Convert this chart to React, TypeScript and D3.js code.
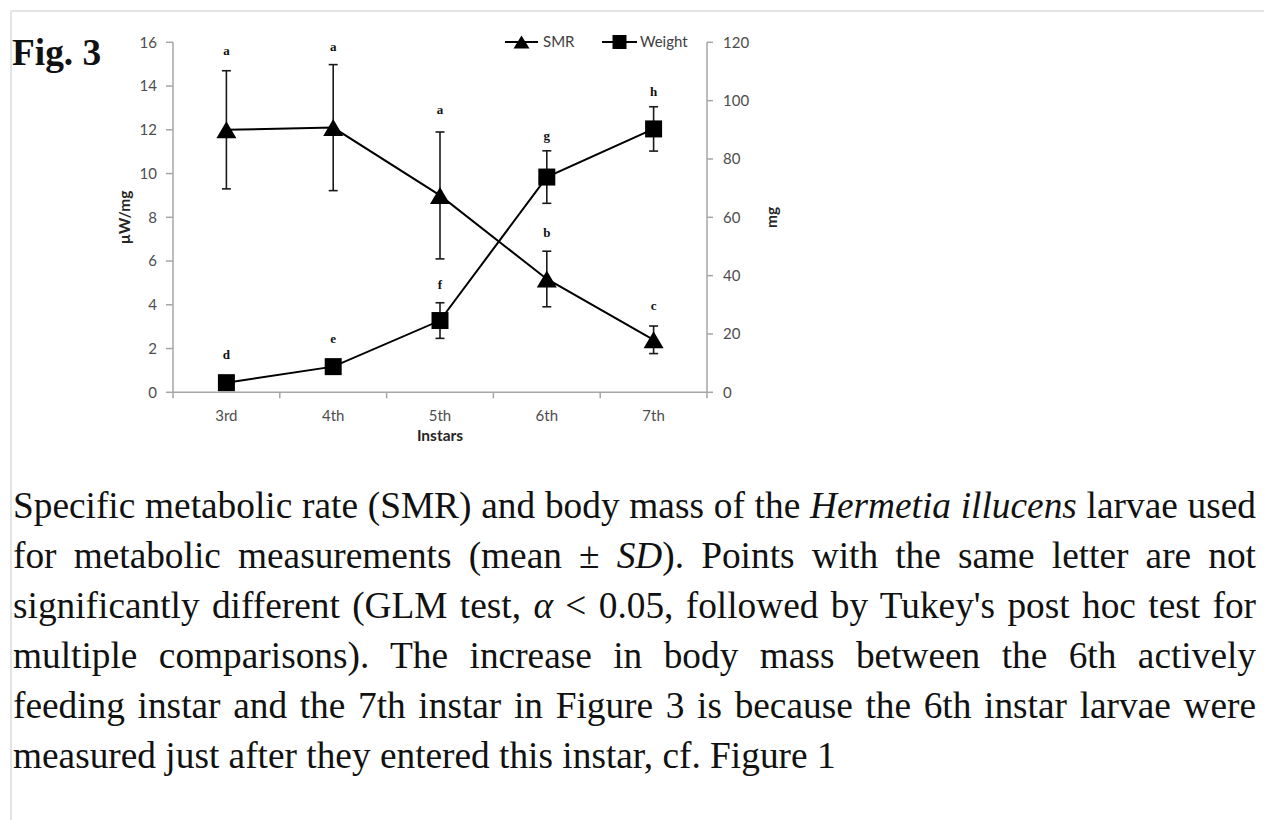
import React, { useLayoutEffect, useRef, useState } from "react";
import * as d3 from "d3";

// ---------- data ----------
const instars = ["3rd", "4th", "5th", "6th", "7th"];
const smrMean = [12.0, 12.1, 9.0, 5.18, 2.4];
const smrSD = [2.7, 2.88, 2.9, 1.27, 0.63];
const smrLetters = ["a", "a", "a", "b", "c"];
const smrLetterPos = [15.4, 15.6, 12.7, 7.1, 3.76];
const weightMean = [3.3, 8.8, 24.6, 73.8, 90.3];
const weightSD = [1.0, 1.5, 6.1, 9.0, 7.6];
const weightLetters = ["d", "e", "f", "g", "h"];
const weightLetterPos = [11.4, 16.9, 35.4, 86.5, 101.6];
const leftTicks = [0, 2, 4, 6, 8, 10, 12, 14, 16];
const rightTicks = [0, 20, 40, 60, 80, 100, 120];

type Seg = [string, boolean];
const captionLines: Seg[][] = [
  [["Specific metabolic rate (SMR) and body mass of the ", false], ["Hermetia illucens", true], [" larvae used", false]],
  [["for metabolic measurements (mean \u00b1 ", false], ["SD", true], ["). Points with the same letter are not", false]],
  [["significantly different (GLM test, ", false], ["\u03b1", true], [" < 0.05, followed by Tukey's post hoc test for", false]],
  [["multiple comparisons). The increase in body mass between the 6th actively", false]],
  [["feeding instar and the 7th instar in Figure 3 is because the 6th instar larvae were", false]],
  [["measured just after they entered this instar, cf. Figure 1", false]],
];

// ---------- layout ----------
const W = 1264;
const H = 820;
const plotLeft = 173;
const plotRight = 707;
const plotTop = 42.3;
const plotBottom = 392.3;
const capX = 13;
const capWidth = 1243;
const capBase = 518;
const capLead = 50;
const capFont = 37.33;

const sans = "Lato, 'Open Sans', sans-serif";
const serif = "'Liberation Serif', 'Times New Roman', serif";

function Caption() {
  const refs = useRef<(SVGTextElement | null)[]>([]);
  const [spacing, setSpacing] = useState<number[]>(captionLines.map(() => 0));
  useLayoutEffect(() => {
    const sp = captionLines.map((segs, i) => {
      if (i === captionLines.length - 1) return 0;
      const el = refs.current[i];
      if (!el) return 0;
      const len = el.getComputedTextLength();
      const txt = segs.map((s) => s[0]).join("");
      const n = (txt.match(/ /g) || []).length;
      return n > 0 ? (capWidth - len) / n : 0;
    });
    setSpacing(sp);
  }, []);
  return (
    <g>
      {captionLines.map((segs, i) => (
        <text
          key={i}
          ref={(el) => {
            refs.current[i] = el;
          }}
          x={capX}
          y={capBase + i * capLead}
          fontFamily={serif}
          fontSize={capFont}
          fill="#111"
          style={{ wordSpacing: spacing[i] + "px", whiteSpace: "pre" }}
        >
          {segs.map((s, j) => (
            <tspan key={j} fontStyle={s[1] ? "italic" : "normal"}>
              {s[0]}
            </tspan>
          ))}
        </text>
      ))}
    </g>
  );
}

function triPath(w: number, h: number) {
  return `M0,${-h / 2}L${w / 2},${h / 2}L${-w / 2},${h / 2}Z`;
}

export default function App() {
  const x = d3.scaleBand<string>().domain(instars).range([plotLeft, plotRight]);
  const cx = (c: string) => (x(c) as number) + x.bandwidth() / 2;
  const yL = d3.scaleLinear().domain([0, 16]).range([plotBottom, plotTop]);
  const yR = d3.scaleLinear().domain([0, 120]).range([plotBottom, plotTop]);

  const smrLine = d3
    .line<number>()
    .x((_, i) => cx(instars[i]))
    .y((d) => yL(d))(smrMean) as string;
  const wLine = d3
    .line<number>()
    .x((_, i) => cx(instars[i]))
    .y((d) => yR(d))(weightMean) as string;

  const axisColor = "#a6a6a6";
  const tickText = "#4d4d4d";
  const cap = 4.5;

  return (
    <div style={{ position: "absolute", left: 0, top: 0 }}>
      <svg width={W} height={H} viewBox={`0 0 ${W} ${H}`} style={{ display: "block", background: "#fff" }}>
        {/* page frame */}
        <line x1={11} x2={W} y1={11} y2={11} stroke="#e4e4e4" strokeWidth={2} />
        <line x1={11} x2={11} y1={11} y2={H} stroke="#e4e4e4" strokeWidth={2} />

        <text x={12} y={65} fontFamily={serif} fontWeight="bold" fontSize={37.33} fill="#111">
          Fig. 3
        </text>

        {/* axes */}
        <g stroke={axisColor} strokeWidth={1.5} fill="none">
          <line x1={plotLeft} x2={plotLeft} y1={plotTop} y2={plotBottom} />
          <line x1={plotRight} x2={plotRight} y1={plotTop} y2={plotBottom} />
          <line x1={plotLeft} x2={plotRight} y1={plotBottom} y2={plotBottom} />
          {leftTicks.map((t) => (
            <line key={"lt" + t} x1={plotLeft - 7} x2={plotLeft} y1={yL(t)} y2={yL(t)} />
          ))}
          {rightTicks.map((t) => (
            <line key={"rt" + t} x1={plotRight} x2={plotRight + 6} y1={yR(t)} y2={yR(t)} />
          ))}
          {instars.map((c) => (
            <line key={"xt" + c} x1={x(c) as number} x2={x(c) as number} y1={plotBottom} y2={plotBottom + 6} />
          ))}
          <line x1={plotRight} x2={plotRight} y1={plotBottom} y2={plotBottom + 6} />
        </g>
        <g fontFamily={sans} fontSize={15} fill={tickText}>
          {leftTicks.map((t) => (
            <text key={"ll" + t} x={157} y={yL(t)} dy="0.35em" textAnchor="end">
              {t}
            </text>
          ))}
          {rightTicks.map((t) => (
            <text key={"rl" + t} x={723} y={yR(t)} dy="0.35em" textAnchor="start">
              {t}
            </text>
          ))}
          {instars.map((c) => (
            <text key={"xl" + c} x={cx(c)} y={421} textAnchor="middle">
              {c}
            </text>
          ))}
        </g>
        <g fontFamily={sans} fontSize={15.5} fontWeight="bold" fill="#262626">
          <text x={440} y={441} textAnchor="middle">
            Instars
          </text>
          <text transform={`translate(130,${(plotTop + plotBottom) / 2}) rotate(-90)`} textAnchor="middle">
            µW/mg
          </text>
          <text transform={`translate(777,${(plotTop + plotBottom) / 2}) rotate(-90)`} textAnchor="middle">
            mg
          </text>
        </g>

        {/* series lines */}
        <path d={smrLine} fill="none" stroke="#000" strokeWidth={2} />
        <path d={wLine} fill="none" stroke="#000" strokeWidth={2} />

        {/* error bars */}
        <g stroke="#1a1a1a" strokeWidth={1.6}>
          {instars.map((c, i) => {
            const px = cx(c);
            const t = yL(smrMean[i] + smrSD[i]);
            const b = yL(smrMean[i] - smrSD[i]);
            return (
              <g key={"se" + c}>
                <line x1={px} x2={px} y1={t} y2={b} />
                <line x1={px - cap} x2={px + cap} y1={t} y2={t} />
                <line x1={px - cap} x2={px + cap} y1={b} y2={b} />
              </g>
            );
          })}
          {instars.map((c, i) => {
            const px = cx(c);
            const t = yR(weightMean[i] + weightSD[i]);
            const b = yR(weightMean[i] - weightSD[i]);
            return (
              <g key={"we" + c}>
                <line x1={px} x2={px} y1={t} y2={b} />
                <line x1={px - cap} x2={px + cap} y1={t} y2={t} />
                <line x1={px - cap} x2={px + cap} y1={b} y2={b} />
              </g>
            );
          })}
        </g>

        {/* markers */}
        {instars.map((c, i) => (
          <path key={"sm" + c} d={triPath(20, 17)} transform={`translate(${cx(c)},${yL(smrMean[i])})`} fill="#000" />
        ))}
        {instars.map((c, i) => (
          <rect key={"wm" + c} x={cx(c) - 8.5} y={yR(weightMean[i]) - 8.5} width={17} height={17} fill="#000" />
        ))}

        {/* significance letters */}
        <g fontFamily={serif} fontWeight="bold" fontSize={13} fill="#111" textAnchor="middle">
          {instars.map((c, i) => (
            <text key={"sl" + c} x={cx(c)} y={yL(smrLetterPos[i])}>
              {smrLetters[i]}
            </text>
          ))}
          {instars.map((c, i) => (
            <text key={"wl" + c} x={cx(c)} y={yR(weightLetterPos[i])}>
              {weightLetters[i]}
            </text>
          ))}
        </g>

        {/* legend */}
        <g>
          <line x1={505} x2={538} y1={42} y2={42} stroke="#000" strokeWidth={2} />
          <path d={triPath(16, 13)} transform="translate(521.5,42)" fill="#000" />
          <text x={543} y={42} dy="0.35em" fontFamily={sans} fontSize={15} fill="#404040">
            SMR
          </text>
          <line x1={602} x2={637} y1={42} y2={42} stroke="#000" strokeWidth={2} />
          <rect x={619.5 - 7} y={35} width={14} height={14} fill="#000" />
          <text x={640} y={42} dy="0.35em" fontFamily={sans} fontSize={15} fill="#404040">
            Weight
          </text>
        </g>

        <Caption />
      </svg>
    </div>
  );
}
